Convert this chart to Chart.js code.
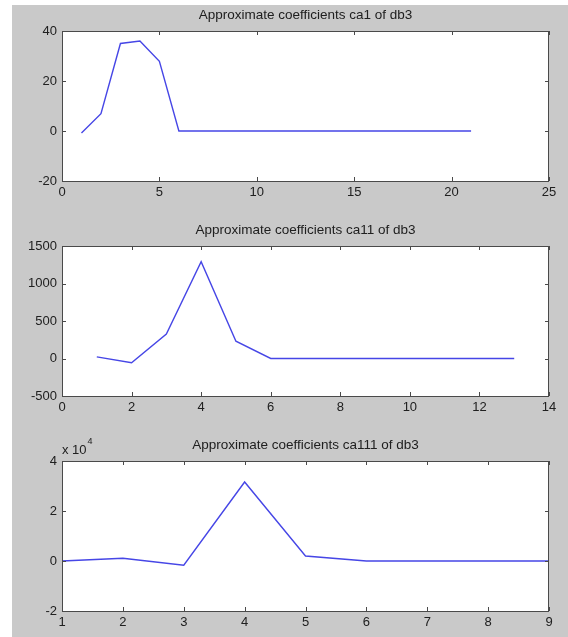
<!DOCTYPE html>
<html>
<head>
<meta charset="utf-8">
<title>Approximate coefficients of db3</title>
<script src="https://cdn.jsdelivr.net/npm/chart.js@4/dist/chart.umd.min.js"></script>
<style>
	body { margin: 0; background: #ffffff; }
	#figure { position: relative; width: 568px; height: 637px; overflow: hidden; background: #ffffff; }
	#panel { position: absolute; left: 12px; top: 5px; width: 556px; height: 632px; background: #c9c9c9; }
	#figure canvas { position: absolute; left: 0; }
</style>
</head>
<body>
<div id="figure">
	<div id="panel"></div>
	<canvas id="ca1" width="568" height="206" style="top: 0px;"></canvas>
	<canvas id="ca11" width="568" height="206" style="top: 215px;"></canvas>
	<canvas id="ca111" width="568" height="206" style="top: 430px;"></canvas>
</div>
<script>
/*--------------------------------------------------------------------------------------------------------------------*/
/* DATA                                                                                                               */
/*--------------------------------------------------------------------------------------------------------------------*/

const ca1Values = [-0.8, 6.9, 35, 36, 27.9, 0, 0, 0, 0, 0, 0, 0, 0, 0, 0, 0, 0, 0, 0, 0, 0];
const ca11Values = [22, -57, 326, 1290, 230, 0, 0, 0, 0, 0, 0, 0, 0];
const ca111Values = [0, 1070, -1700, 31600, 2000, 0, 0, 0, 0];

const ca1XTicks = [0, 5, 10, 15, 20, 25];
const ca1YTicks = [-20, 0, 20, 40];
const ca11XTicks = [0, 2, 4, 6, 8, 10, 12, 14];
const ca11YTicks = [-500, 0, 500, 1000, 1500];
const ca111XTicks = [1, 2, 3, 4, 5, 6, 7, 8, 9];
const ca111YTicks = [-20000, 0, 20000, 40000];

const titles = [
	'Approximate coefficients ca1 of db3',
	'Approximate coefficients ca11 of db3',
	'Approximate coefficients ca111 of db3',
];

/*--------------------------------------------------------------------------------------------------------------------*/

const FONT = 'Liberation Sans, Arial, Helvetica, sans-serif';
const TEXT = '#202020';
const BOX = '#4a4a4a';

/*--------------------------------------------------------------------------------------------------------------------*/
/* MATLAB-like box with inward ticks, centred title                                                                   */
/*--------------------------------------------------------------------------------------------------------------------*/

const matlabAxes = {
	id: 'matlabAxes',

	beforeDatasetsDraw: function(chart)
	{
		const ctx = chart.ctx;
		const a = chart.chartArea;

		ctx.save();
		ctx.fillStyle = '#ffffff';
		ctx.fillRect(a.left, a.top, a.right - a.left, a.bottom - a.top);
		ctx.restore();
	},

	afterDatasetsDraw: function(chart, args, opts)
	{
		const ctx = chart.ctx;
		const a = chart.chartArea;
		const sx = chart.scales.x;
		const sy = chart.scales.y;
		const len = 4;

		ctx.save();
		ctx.strokeStyle = BOX;
		ctx.lineWidth = 1;

		ctx.beginPath();

		sx.ticks.forEach((t) => {
			const px = Math.round(sx.getPixelForValue(t.value)) + 0.5;
			ctx.moveTo(px, a.bottom);
			ctx.lineTo(px, a.bottom - len);
			ctx.moveTo(px, a.top);
			ctx.lineTo(px, a.top + len);
		});

		sy.ticks.forEach((t) => {
			const py = Math.round(sy.getPixelForValue(t.value)) + 0.5;
			ctx.moveTo(a.left, py);
			ctx.lineTo(a.left + len, py);
			ctx.moveTo(a.right, py);
			ctx.lineTo(a.right - len, py);
		});

		ctx.stroke();

		ctx.strokeRect(a.left + 0.5, a.top + 0.5, a.right - a.left - 1, a.bottom - a.top);

		/*------------------------------------------------------------------------------------------------------------*/

		ctx.fillStyle = TEXT;
		ctx.textBaseline = 'middle';
		ctx.textAlign = 'center';
		ctx.font = '13.5px ' + FONT;
		ctx.fillText(opts.title, (a.left + a.right) / 2, a.top - 15.5);

		if(opts.exponent)
		{
			ctx.textAlign = 'left';
			ctx.font = '13px ' + FONT;
			ctx.fillText('x 10', a.left, a.top - 11);
			const w = ctx.measureText('x 10').width;
			ctx.font = '9px ' + FONT;
			ctx.fillText(opts.exponent, a.left + w + 1, a.top - 19);
		}

		ctx.restore();
	},
};

/*--------------------------------------------------------------------------------------------------------------------*/

function makeChart(id, title, values, xTicks, yTicks, yFormat, exponent)
{
	const points = values.map((v, i) => ({x: i + 1, y: v}));

	return new Chart(document.getElementById(id).getContext('2d'), {
		type: 'line',
		data: {
			datasets: [{
				data: points,
				borderColor: '#4646e6',
				borderWidth: 1.4,
				pointRadius: 0,
				tension: 0,
				fill: false,
			}],
		},
		options: {
			responsive: false,
			animation: false,
			devicePixelRatio: 1,
			layout: {
				padding: {left: 0, right: 19, top: 31, bottom: 0},
			},
			plugins: {
				legend: {display: false},
				tooltip: {enabled: false},
				title: {display: false},
				matlabAxes: {title: title, exponent: exponent},
			},
			scales: {
				x: {
					type: 'linear',
					min: xTicks[0],
					max: xTicks[xTicks.length - 1],
					afterBuildTicks: (scale) => {
						scale.ticks = xTicks.map((v) => ({value: v}));
					},
					afterFit: (scale) => {
						scale.height = 25;
					},
					grid: {display: false, drawTicks: false},
					border: {display: false},
					ticks: {
						color: TEXT,
						font: {family: FONT, size: 13},
						padding: 4,
						maxRotation: 0,
						autoSkip: false,
					},
				},
				y: {
					type: 'linear',
					min: yTicks[0],
					max: yTicks[yTicks.length - 1],
					afterBuildTicks: (scale) => {
						scale.ticks = yTicks.map((v) => ({value: v}));
					},
					afterFit: (scale) => {
						scale.width = 62;
					},
					grid: {display: false, drawTicks: false},
					border: {display: false},
					ticks: {
						color: TEXT,
						font: {family: FONT, size: 13},
						padding: 5,
						autoSkip: false,
						callback: yFormat,
					},
				},
			},
		},
		plugins: [matlabAxes],
	});
}

/*--------------------------------------------------------------------------------------------------------------------*/

makeChart('ca1', titles[0], ca1Values, ca1XTicks, ca1YTicks, (v) => String(v), null);
makeChart('ca11', titles[1], ca11Values, ca11XTicks, ca11YTicks, (v) => String(v), null);
makeChart('ca111', titles[2], ca111Values, ca111XTicks, ca111YTicks, (v) => String(v / 10000), '4');

/*--------------------------------------------------------------------------------------------------------------------*/
</script>
</body>
</html>
